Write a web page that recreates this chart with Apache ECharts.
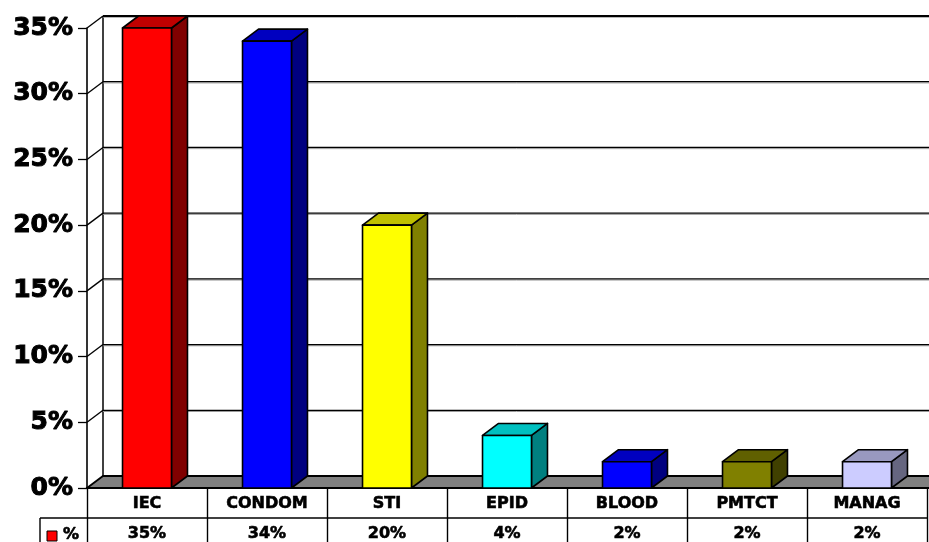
<!DOCTYPE html>
<html><head><meta charset="utf-8">
<script src="https://cdn.jsdelivr.net/npm/echarts@6/dist/echarts.min.js"></script>
<style>html,body{margin:0;padding:0;background:#fff}#c{width:929px;height:542px}</style>
</head><body><div id="c"></div>
<script>
// ---- data ----
const categories = ['IEC', 'CONDOM', 'STI', 'EPID', 'BLOOD', 'PMTCT', 'MANAG'];
const values = [35, 34, 20, 4, 2, 2, 2];
const yTicks = [0, 5, 10, 15, 20, 25, 30, 35];
const seriesName = '%';

// ---- styles ----
const frontColors = ['#FF0000', '#0000FF', '#FFFF00', '#00FFFF', '#0000FF', '#808000', '#CCCCFF'];
const sideColors  = ['#800000', '#000080', '#808000', '#008080', '#000080', '#404000', '#666680'];
const topColors   = ['#C00000', '#0000C0', '#C0C000', '#00C0C0', '#0000C0', '#606000', '#9999C0'];
const DX = 16, DY = -12;
const FONT = 'DejaVu Sans';

const chart = echarts.init(document.getElementById('c'));

function renderWall(params, api) {
  const v = api.value(1);
  const cs = params.coordSys;
  const y = api.coord([0, v])[1];
  const x0 = cs.x, x1 = cs.x + cs.width + 20;
  const ch = [];
  if (v === 0) {
    const yTop = api.coord([0, yTicks[yTicks.length - 1]])[1];
    ch.push({type: 'line', shape: {x1: x0 + DX, y1: yTop + DY, x2: x0 + DX, y2: y + DY}, style: {stroke: '#000', lineWidth: 1.5}});
    ch.push({type: 'polygon', shape: {points: [[x0, y], [x0 + DX, y + DY], [x1, y + DY], [x1, y]]},
      style: {fill: '#808080', stroke: '#000', lineWidth: 1.8}});
  } else {
    ch.push({type: 'line', shape: {x1: x0 + DX, y1: y + DY + 1.2, x2: x1, y2: y + DY + 1.2}, style: {stroke: '#999', lineWidth: 1}});
    ch.push({type: 'line', shape: {x1: x0 + DX, y1: y + DY, x2: x1, y2: y + DY}, style: {stroke: '#000', lineWidth: v === yTicks[yTicks.length - 1] ? 1.8 : 1.2}});
    ch.push({type: 'line', shape: {x1: x0, y1: y, x2: x0 + DX, y2: y + DY}, style: {stroke: '#000', lineWidth: 1.3}});
  }
  return {type: 'group', children: ch};
}

function renderBar(params, api) {
  const i = api.value(0), v = api.value(1);
  const top = api.coord([i, v]);
  const base = api.coord([i, 0]);
  const hw = api.size([1, 0])[0] * 0.408 / 2;
  const xl = top[0] - hw, xr = top[0] + hw, yt = top[1], yb = base[1];
  const st = {stroke: '#000', lineWidth: 1.6, lineJoin: 'round'};
  return {type: 'group', children: [
    {type: 'polygon', shape: {points: [[xr, yt], [xr + DX, yt + DY], [xr + DX, yb + DY], [xr, yb]]},
      style: Object.assign({fill: sideColors[i]}, st)},
    {type: 'polygon', shape: {points: [[xl, yt], [xl + DX, yt + DY], [xr + DX, yt + DY], [xr, yt]]},
      style: Object.assign({fill: topColors[i]}, st)},
    {type: 'rect', shape: {x: xl, y: yt, width: xr - xl, height: yb - yt},
      style: Object.assign({fill: frontColors[i]}, st)}
  ]};
}

function renderTable(params, api) {
  const i = api.value(0), v = api.value(1);
  const cs = params.coordSys;
  const base = api.coord([i, 0]);
  const ch = [];
  const rowY = base[1] + 30;
  const txt = {font: 'bold 16px "' + FONT + '"', fill: '#000', stroke: '#000', lineWidth: 0.6};
  ch.push({type: 'text', style: Object.assign({text: v + '%', x: base[0], y: rowY + 16, align: 'center', verticalAlign: 'middle'}, txt)});
  if (i === 0) {
    ch.push({type: 'line', shape: {x1: cs.x - 47, y1: rowY, x2: cs.x + cs.width, y2: rowY}, style: {stroke: '#000', lineWidth: 1.4}});
    ch.push({type: 'line', shape: {x1: cs.x - 47, y1: rowY, x2: cs.x - 47, y2: rowY + 40}, style: {stroke: '#000', lineWidth: 1.4}});
    ch.push({type: 'rect', shape: {x: cs.x - 40, y: rowY + 13, width: 10, height: 10}, style: {fill: frontColors[0], stroke: '#000', lineWidth: 1}});
    ch.push({type: 'text', style: Object.assign({text: seriesName, x: cs.x - 24, y: rowY + 17, align: 'left', verticalAlign: 'middle'}, txt)});
  }
  return {type: 'group', children: ch};
}

chart.setOption({
  animation: false,
  backgroundColor: '#fff',
  grid: {left: 87, right: 2, top: 28, bottom: 54, containLabel: false},
  xAxis: {
    type: 'category', data: categories, boundaryGap: true,
    axisLine: {show: true, lineStyle: {color: '#000', width: 2.2}},
    axisTick: {show: true, interval: 0, length: 54, lineStyle: {color: '#000', width: 1.4}},
    axisLabel: {interval: 0, margin: 8, color: '#000', fontFamily: FONT, fontWeight: 'bold', fontSize: 16,
      textBorderColor: '#000', textBorderWidth: 0.6},
    splitLine: {show: false}
  },
  yAxis: {
    type: 'value', min: 0, max: 35, interval: 5,
    axisLine: {show: true, lineStyle: {color: '#000', width: 1.6}},
    axisTick: {show: true, length: 9, lineStyle: {color: '#000', width: 1.3}},
    axisLabel: {formatter: '{value}%', margin: 14, color: '#000', fontFamily: FONT, fontWeight: 'bold', fontSize: 25,
      textBorderColor: '#000', textBorderWidth: 1},
    splitLine: {show: false}
  },
  series: [
    {type: 'custom', name: 'wall', clip: false, z: 1, renderItem: renderWall,
      data: yTicks.map(v => [0, v]), silent: true},
    {type: 'custom', name: seriesName, clip: false, z: 3, renderItem: renderBar,
      data: values.map((v, i) => [i, v])},
    {type: 'custom', name: 'table', clip: false, z: 4, renderItem: renderTable,
      data: values.map((v, i) => [i, v]), silent: true}
  ]
});
</script>
</body></html>
